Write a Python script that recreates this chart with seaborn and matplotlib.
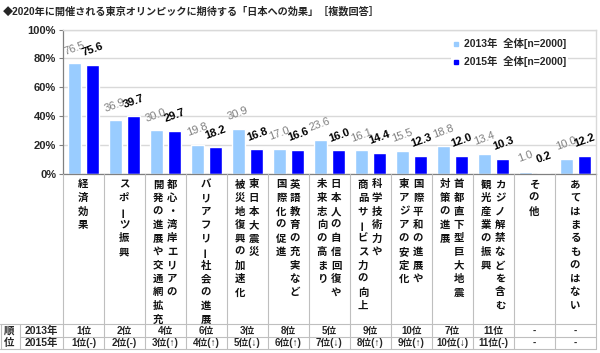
import matplotlib
matplotlib.use("Agg")
import matplotlib.pyplot as plt
import seaborn as sns
import pandas as pd
from matplotlib.lines import Line2D
from matplotlib.transforms import IdentityTransform

sns.set_theme(style="white")
plt.rcParams["font.family"] = ["Liberation Sans", "Noto Sans CJK JP", "DejaVu Sans"]

title = "◆2020年に開催される東京オリンピックに期待する「日本への効果」［複数回答］"
series_names = ["2013年  全体[n=2000]", "2015年  全体[n=2000]"]
# sub-columns of the vertical labels are separated by "\n" (first = rightmost)
categories = [
    "経済効果",
    "スポーツ振興",
    "都心・湾岸エリアの\n開発の進展や交通網拡充",
    "バリアフリー社会の進展",
    "東日本大震災\n被災地復興の加速化",
    "英語教育の充実など\n国際化の促進",
    "日本人の自信回復や\n未来志向の高まり",
    "科学技術力や\n商品サービス力の向上",
    "国際平和の進展や\n東アジアの安定化",
    "首都直下型巨大地震\n対策の進展",
    "カジノ解禁などを含む\n観光産業の振興",
    "その他",
    "あてはまるものはない",
]
values_2013 = [76.5, 36.9, 30.0, 19.8, 30.9, 17.0, 23.6, 16.1, 15.5, 18.8, 13.4, 1.0, 10.0]
values_2015 = [75.6, 39.7, 29.7, 18.2, 16.8, 16.6, 16.0, 14.4, 12.3, 12.0, 10.3, 0.2, 12.2]
rank_2013 = ["1位", "2位", "4位", "6位", "3位", "8位", "5位", "9位", "10位", "7位", "11位", "-", "-"]
rank_2015 = ["1位(-)", "2位(-)", "3位(↑)", "4位(↑)", "5位(↓)", "6位(↑)", "7位(↓)",
             "8位(↑)", "9位(↑)", "10位(↓)", "11位(-)", "-", "-"]
rank_row_labels = ["2013年", "2015年"]
yticks = [0, 20, 40, 60, 80, 100]

colors = ["#99CCFF", "#0000FF"]

df = pd.DataFrame({
    "cat": categories * 2,
    "val": values_2013 + values_2015,
    "series": [series_names[0]] * len(categories) + [series_names[1]] * len(categories),
})

W, H = 600, 353
fig = plt.figure(figsize=(W / 100, H / 100), dpi=100)
fig.patch.set_facecolor("white")
x0, x1, y_top, y_bot = 63, 596, 29.5, 173.5
ax = fig.add_axes([x0 / W, 1 - y_bot / H, (x1 - x0) / W, (y_bot - y_top) / H])

sns.barplot(data=df, x="cat", y="val", hue="series", order=categories,
            hue_order=series_names, palette=colors, saturation=1,
            width=0.92, gap=0.31, errorbar=None, legend=False, ax=ax)

ax.set_xlim(-0.5, len(categories) - 0.5)
ax.set_ylim(0, 100)
ax.set_yticks(yticks)
ax.set_yticklabels([f"{v}%" for v in yticks], fontsize=8, fontweight="bold")
ax.set_xticks([])
ax.set_xticks([i - 0.5 for i in range(len(categories) + 1)], minor=True)
ax.tick_params(axis="x", which="minor", direction="in", length=4, color="#808080", width=0.8)
ax.tick_params(axis="y", which="major", direction="out", length=3, color="#808080",
               width=0.8, pad=2, left=True)
ax.set_xlabel("")
ax.set_ylabel("")
ax.yaxis.grid(True, color="#d9d9d9", lw=1)
ax.set_axisbelow(True)
for s in ["left", "bottom"]:
    ax.spines[s].set_color("#808080")
    ax.spines[s].set_linewidth(0.9)
for s in ["top", "right"]:
    ax.spines[s].set_color("#d9d9d9")
    ax.spines[s].set_linewidth(1)

# value labels
for ci, cont in enumerate(ax.containers):
    for bar in cont:
        v = bar.get_height()
        ax.annotate(f"{v:.1f}", (bar.get_x() + bar.get_width() / 2, v),
                    xytext=(0, 11), textcoords="offset points", rotation=20,
                    ha="center", va="center", fontsize=8,
                    color="#808080" if ci == 0 else "black",
                    fontweight="normal" if ci == 0 else "bold")

# legend
handles = [Line2D([], [], marker="s", ls="", color=c, markersize=3.5) for c in colors]
leg = ax.legend(handles, series_names, loc="upper left",
                bbox_to_anchor=(451 / W, 1 - 36 / H), bbox_transform=fig.transFigure,
                frameon=True, facecolor="white", edgecolor="none", framealpha=1,
                fontsize=7.5, handlelength=0.6, handletextpad=0.4,
                labelspacing=0.65, borderpad=0.2, borderaxespad=0)
for t in leg.get_texts():
    t.set_fontweight("bold")

ID = IdentityTransform()

def ftext(x, y_img, s, **kw):
    fig.text(x, H - y_img, s, transform=ID, **kw)

def hline(xa, xb, y_img, color="#bfbfbf"):
    fig.add_artist(Line2D([xa, xb], [H - y_img, H - y_img], transform=ID, color=color, lw=0.8))

def vline(x, ya, yb, color="#bfbfbf"):
    fig.add_artist(Line2D([x, x], [H - ya, H - yb], transform=ID, color=color, lw=0.8))

# title
ftext(3, 12, title, fontsize=7.3, fontweight="bold", va="center", ha="left")

# category labels (vertical)
fig.canvas.draw()
col_px = [ax.transData.transform((i, 0))[0] for i in range(len(categories))]
bounds_px = [ax.transData.transform((i - 0.5, 0))[0] for i in range(len(categories) + 1)]
for i, cat in enumerate(categories):
    cols = cat.split("\n")
    n = len(cols)
    for k, line in enumerate(cols):
        cx = col_px[i] + ((n - 1) / 2 - k) * 14 - 0.5
        for j, ch in enumerate(line):
            rot = 90 if ch == "ー" else 0
            ftext(cx, 184.5 + j * 13.5, ch, fontsize=7.5, fontweight="bold",
                  ha="center", va="center", rotation=rot, color="#111111")

# table lines
for bx in bounds_px:
    vline(bx, y_bot, 349)
vline(20, 324, 349)
vline(0.5, 324, 349)
hline(0, x1, 324)
hline(20, x1, 337)
hline(0, x1, 349)

# rank rows
ftext(9, 331, "順", fontsize=7.5, fontweight="bold", ha="center", va="center")
ftext(9, 343, "位", fontsize=7.5, fontweight="bold", ha="center", va="center")
ftext(41, 331, rank_row_labels[0], fontsize=7.5, fontweight="bold", ha="center", va="center")
ftext(41, 343, rank_row_labels[1], fontsize=7.5, fontweight="bold", ha="center", va="center")
for i in range(len(categories)):
    ftext(col_px[i], 331, rank_2013[i], fontsize=7, fontweight="bold", ha="center", va="center")
    ftext(col_px[i], 343, rank_2015[i], fontsize=7, fontweight="bold", ha="center", va="center")

fig.savefig("out.png", dpi=100)
